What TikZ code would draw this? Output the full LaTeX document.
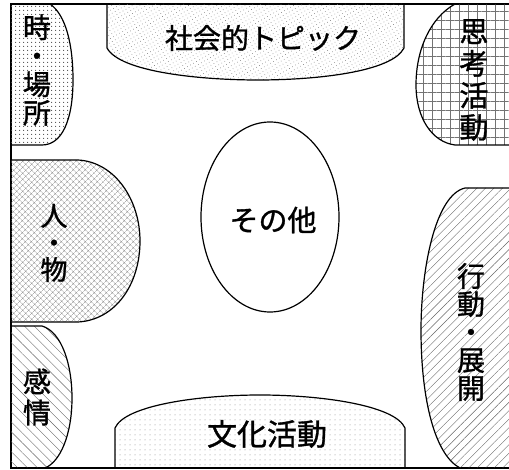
\documentclass[tikz,border=0pt]{standalone}
\usepackage{fontspec}
\newfontfamily\jp[FakeBold=1.2]{Noto Sans CJK JP}
\usetikzlibrary{patterns.meta}
\begin{document}
\begin{tikzpicture}[x=1pt,y=-1pt,
  region/.style={draw=black,line width=1.2pt},
  lbl/.style={font=\jp\fontsize{#1}{#1}\selectfont,inner sep=0pt,align=center},
  vlbl/.style 2 args={font=\jp\fontsize{#1}{#2}\selectfont,inner sep=0pt,align=center}]
\useasboundingbox (0,0) rectangle (509,470);
% frame
\draw[line width=1.6pt] (11,4) rectangle (512,468);
% time/place
\path[region,pattern={Dots[radius=0.7pt,distance=4pt]},pattern color=black!70]
  (11,4) -- (50,4) .. controls (66,15) and (73,45) .. (73,80)
  .. controls (73,120) and (62,145) .. (42,145) -- (11,145);
% social topic
\path[region,pattern={Dots[radius=0.45pt,distance=3.5pt,angle=30]},pattern color=black!50]
  (107,4) -- (107,48) .. controls (120,72) and (200,80) .. (258,80)
  .. controls (316,80) and (392,72) .. (404,48) -- (404,4);
% thinking
\path[region,pattern={Hatch[angle=0,distance=9pt,line width=0.45pt]},pattern color=black!55]
  (510,4) -- (455,4) .. controls (430,18) and (416,50) .. (416,85)
  .. controls (416,118) and (432,142) .. (455,145) -- (510,145);
% person/thing
\path[region,pattern={Hatch[angle=45,distance=4pt,line width=0.3pt]},pattern color=black!45]
  (11,160) -- (78,160) .. controls (115,162) and (140,200) .. (140,241)
  .. controls (140,285) and (115,320) .. (78,322) -- (11,322);
% action
\path[region,pattern={Lines[angle=45,distance=6pt,line width=0.4pt]},pattern color=black!60]
  (510,188) -- (465,188) .. controls (435,195) and (421,270) .. (421,330)
  .. controls (421,400) and (435,455) .. (460,468) -- (510,468);
% emotion
\path[region,pattern={Lines[angle=-45,distance=7pt,line width=0.4pt]},pattern color=black!60]
  (11,326) -- (42,326) .. controls (62,332) and (72,365) .. (72,398)
  .. controls (72,435) and (60,462) .. (45,468) -- (11,468);
% culture
\path[region,pattern={Dots[radius=0.5pt,distance=5pt]},pattern color=black!50]
  (115,468) -- (115,428) .. controls (125,405) and (200,395) .. (260,395)
  .. controls (320,395) and (395,405) .. (405,428) -- (405,468);
% other
\draw[line width=1.2pt,fill=white] (270,217) ellipse [x radius=69, y radius=95];
% labels
\node[vlbl={28}{28.5}] (tp) at (37,70) {時\\・\\場\\所};
\node[lbl=28] (soc) at (263,38) {社会的トピック};
\node[vlbl={29}{32}] (think) at (474,80) {思\\考\\活\\動};
\node[vlbl={27}{27}] (pers) at (54,243) {人\\・\\物};
\node[lbl=29] (oth) at (273,220) {その他};
\node[vlbl={28}{28}] (act) at (471,332) {行\\動\\・\\展\\開};
\node[vlbl={28}{31}] (emo) at (37,397) {感\\情};
\node[lbl=30] (cul) at (267,434) {文化活動};
\end{tikzpicture}
\end{document}
